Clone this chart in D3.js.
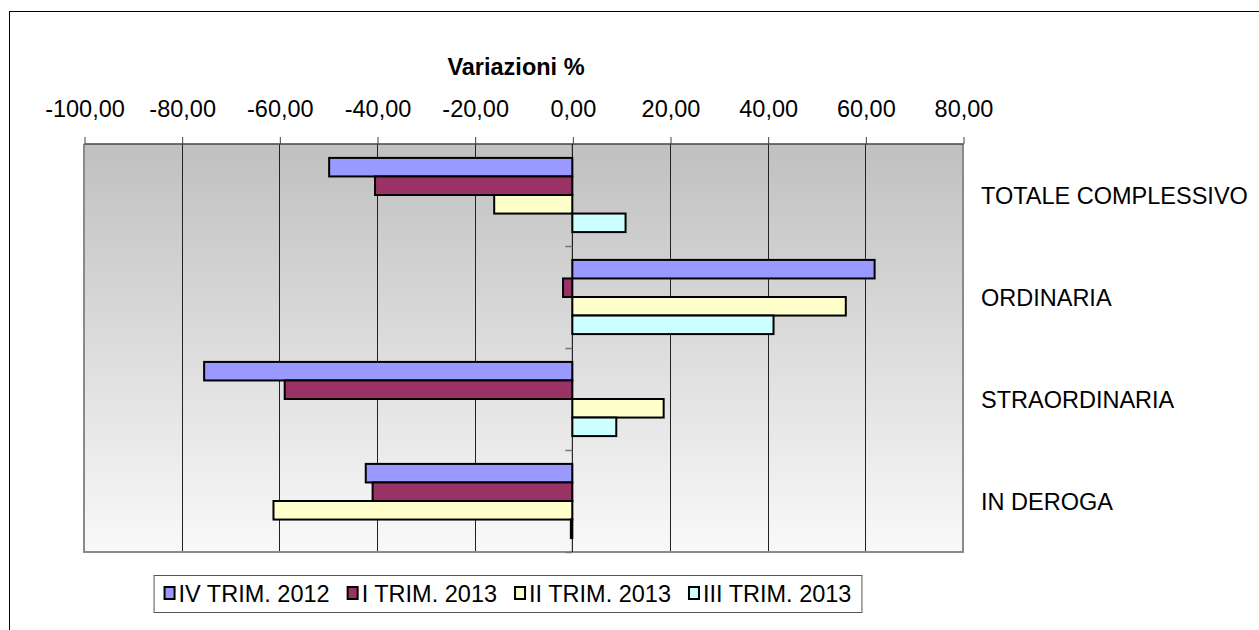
<!DOCTYPE html>
<html>
<head>
<meta charset="utf-8">
<script src="https://cdn.jsdelivr.net/npm/d3@7"></script>
<style>
  body { margin: 0; background: #fff; }
  svg { display: block; font-family: Arial, "Liberation Sans", sans-serif; }
</style>
</head>
<body>
<div id="container"></div>
<script>
"use strict";

// categories, top to bottom
const categories = ["TOTALE COMPLESSIVO", "ORDINARIA", "STRAORDINARIA", "IN DEROGA"];
const seriesNames = ["IV TRIM. 2012", "I TRIM. 2013", "II TRIM. 2013", "III TRIM. 2013"];
const seriesColors = ["#9999ff", "#993366", "#ffffcc", "#ccffff"];

// variazioni % per serie
const iv2012 = [-49.8, 61.9, -75.4, -42.3];
const i2013 = [-40.4, -1.9, -58.9, -40.9];
const ii2013 = [-16.0, 56.0, 18.7, -61.2];
const iii2013 = [10.9, 41.2, 9.0, -0.3];
const tickValues = [-100, -80, -60, -40, -20, 0, 20, 40, 60, 80];

const seriesValues = [iv2012, i2013, ii2013, iii2013];

const W = 1259, H = 630;
const plot = {left: 84, right: 963, top: 144, bottom: 552};
const fontSize = 23.5;

const svg = d3.select("#container").append("svg")
    .attr("width", W)
    .attr("height", H);

// italian number format: -100,00 (plain hyphen as minus)
const it = d3.formatLocale({decimal: ",", thousands: ".", grouping: [3], currency: ["€", ""], minus: "-"});
const fmt = it.format(".2f");

const x = d3.scaleLinear()
    .domain([-100, 80])
    .range([plot.left, plot.right]);

const y0 = d3.scaleBand()
    .domain(categories)
    .range([plot.top, plot.bottom]);

const y1 = d3.scaleBand()
    .domain(seriesNames)
    .range([0, y0.bandwidth()])
    .paddingOuter(0.75);

// outer chart frame
svg.append("rect")
    .attr("x", 9.5).attr("y", 11.5)
    .attr("width", W + 20).attr("height", H + 20)
    .attr("fill", "#fff")
    .attr("stroke", "#000");

// plot background gradient
const defs = svg.append("defs");
const grad = defs.append("linearGradient")
    .attr("id", "bg")
    .attr("x1", 0).attr("y1", 0).attr("x2", 0).attr("y2", 1);
grad.append("stop").attr("offset", "0%").attr("stop-color", "#c0c0c0");
grad.append("stop").attr("offset", "100%").attr("stop-color", "#f9f9f9");

svg.append("rect")
    .attr("x", plot.left).attr("y", plot.top)
    .attr("width", plot.right - plot.left)
    .attr("height", plot.bottom - plot.top)
    .attr("fill", "url(#bg)");

// vertical gridlines
svg.append("g")
    .selectAll("line")
    .data(tickValues.filter(d => d > -100 && d < 80 && d !== 0))
    .enter().append("line")
        .attr("x1", d => Math.round(x(d)) + 0.5)
        .attr("x2", d => Math.round(x(d)) + 0.5)
        .attr("y1", plot.top)
        .attr("y2", plot.bottom)
        .attr("stroke", "#222");

// plot border (left, right, bottom) in gray
svg.append("path")
    .attr("d", `M${plot.left},${plot.top} V${plot.bottom} H${plot.right} V${plot.top}`)
    .attr("fill", "none")
    .attr("stroke", "#8a8a8a")
    .attr("stroke-width", 2);

// value axis on top
const xAxis = d3.axisTop(x)
    .tickValues(tickValues)
    .tickSize(7)
    .tickPadding(20)
    .tickFormat(fmt);

const gx = svg.append("g")
    .attr("transform", `translate(0.5, ${plot.top})`)
    .call(xAxis);
gx.select(".domain")
    .attr("stroke", "#444")
    .attr("stroke-width", 1.5)
    .attr("d", `M${plot.left},0H${plot.right}`);
gx.selectAll(".tick line").attr("stroke", "#444");
gx.selectAll(".tick text")
    .attr("font-size", fontSize)
    .attr("font-family", "Arial, 'Liberation Sans', sans-serif")
    .attr("fill", "#000");

// title
svg.append("text")
    .attr("x", 516)
    .attr("y", 75)
    .attr("text-anchor", "middle")
    .attr("font-size", fontSize)
    .attr("font-weight", "bold")
    .text("Variazioni %");

// bars
const groups = svg.append("g")
    .selectAll("g")
    .data(categories)
    .enter().append("g")
        .attr("transform", d => `translate(0, ${y0(d)})`);

groups.selectAll("rect")
    .data((c, ci) => seriesNames.map((s, si) => ({s: s, si: si, v: seriesValues[si][ci]})))
    .enter().append("rect")
        .attr("x", d => x(Math.min(0, d.v)))
        .attr("y", d => y1(d.s))
        .attr("width", d => Math.abs(x(d.v) - x(0)))
        .attr("height", y1.bandwidth())
        .attr("fill", d => seriesColors[d.si])
        .attr("stroke", "#000")
        .attr("stroke-width", 2);

// category axis at zero
const gy = svg.append("g")
    .attr("transform", `translate(${x(0)}, 0)`);
gy.append("line")
    .attr("y1", plot.top).attr("y2", plot.bottom)
    .attr("stroke", "#000");
gy.selectAll(".ctick")
    .data(categories.slice(1).map(c => y0(c)).concat([plot.bottom]))
    .enter().append("line")
        .attr("class", "ctick")
        .attr("x1", -7).attr("x2", 0)
        .attr("y1", d => d + 0.5).attr("y2", d => d + 0.5)
        .attr("stroke", "#777")
        .attr("stroke-width", 1.5);

// category labels on the right
svg.append("g")
    .selectAll("text")
    .data(categories)
    .enter().append("text")
        .attr("x", 981)
        .attr("y", d => y0(d) + y0.bandwidth() / 2 + 8.5)
        .attr("font-size", fontSize)
        .text(d => d);

// legend
const legend = svg.append("g").attr("class", "legend");
const legendBox = legend.append("rect")
    .attr("fill", "#fff")
    .attr("stroke", "#555");
const items = legend.selectAll("g")
    .data(seriesNames)
    .enter().append("g");
items.append("rect")
    .attr("width", 10).attr("height", 12)
    .attr("y", -15)
    .attr("fill", (d, i) => seriesColors[i])
    .attr("stroke", "#000")
    .attr("stroke-width", 2);
items.append("text")
    .attr("x", 14)
    .attr("font-size", fontSize)
    .text(d => d);

const itemGap = 18;
let lx = 0;
const offsets = [];
items.each(function() {
    offsets.push(lx);
    lx += 14 + d3.select(this).select("text").node().getComputedTextLength() + itemGap;
});
const legendW = lx - itemGap;
const legendCx = 508;
items.attr("transform", (d, i) => `translate(${legendCx - legendW / 2 + offsets[i]}, 602)`);
legendBox
    .attr("x", legendCx - legendW / 2 - 10.5)
    .attr("y", 575.5)
    .attr("width", legendW + 21)
    .attr("height", 37);
</script>
</body>
</html>
